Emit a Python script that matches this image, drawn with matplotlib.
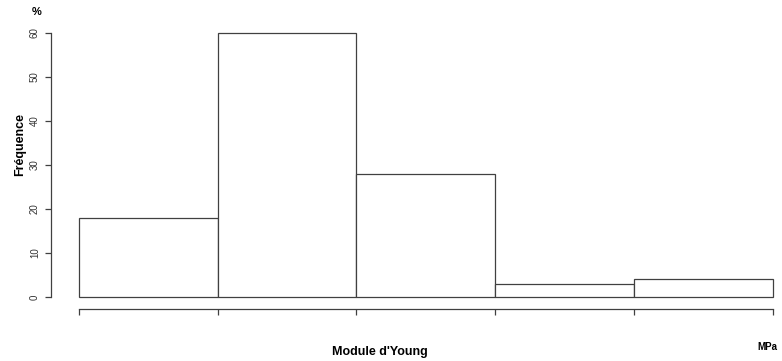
import matplotlib
matplotlib.use('Agg')
import matplotlib.pyplot as plt

plt.rcParams['font.family'] = ['Liberation Sans', 'DejaVu Sans']

# classes of Young's modulus (bin edges) and share of samples in each one (%)
bin_edges = [0, 1, 2, 3, 4, 5]
frequence = [18, 60, 28, 3, 4]
y_ticks = [0, 10, 20, 30, 40, 50, 60]

W, H = 782, 361
fig = plt.figure(figsize=(W / 100, H / 100), dpi=100)

# plot area in pixels: x 78.7..772.7, y 33..297 (from top)
left, right, top, bottom = 78.7, 772.7, 33.0, 297.0
ax = fig.add_axes([left / W, 1 - bottom / H, (right - left) / W, (bottom - top) / H])

edge = '#404040'
widths = [bin_edges[i + 1] - bin_edges[i] for i in range(len(frequence))]
bars = ax.bar(bin_edges[:-1], frequence, width=widths, align='edge',
              color='white', edgecolor=edge, linewidth=0.9)
for b in bars:
    b.set_clip_on(False)

ax.set_xlim(bin_edges[0], bin_edges[-1])
ax.set_ylim(0, 60)

# R-like detached axes
for s in ['top', 'right']:
    ax.spines[s].set_visible(False)
ax.spines['left'].set_position(('outward', (left - 51) * 0.72))
ax.spines['bottom'].set_position(('outward', (308.7 - bottom) * 0.72))
ax.spines['left'].set_bounds(0, 60)
ax.spines['bottom'].set_bounds(bin_edges[0], bin_edges[-1])
for s in ['left', 'bottom']:
    ax.spines[s].set_color(edge)
    ax.spines[s].set_linewidth(0.9)

ax.set_yticks(y_ticks)
ax.set_yticklabels([str(v) for v in y_ticks], rotation=90, va='center', fontsize=7, color='#333333')
ax.set_xticks(bin_edges)
ax.set_xticklabels([])
ax.tick_params(axis='both', length=4, width=0.9, color=edge, pad=4)

fig.text(37 / W, 1 - 12 / H, '%', fontsize=8, fontweight='bold', ha='center', va='center')
fig.text(20 / W, 1 - 145 / H, 'Fréquence', fontsize=9, fontweight='bold', rotation=90,
         ha='center', va='center')
fig.text(380 / W, 1 - 351.5 / H, "Module d'Young", fontsize=9, fontweight='bold',
         ha='center', va='center')
fig.text(757 / W, 1 - 347 / H, 'MPa', fontsize=7, fontweight='bold', ha='left', va='center')

fig.savefig('out.png', dpi=100, facecolor='white')
